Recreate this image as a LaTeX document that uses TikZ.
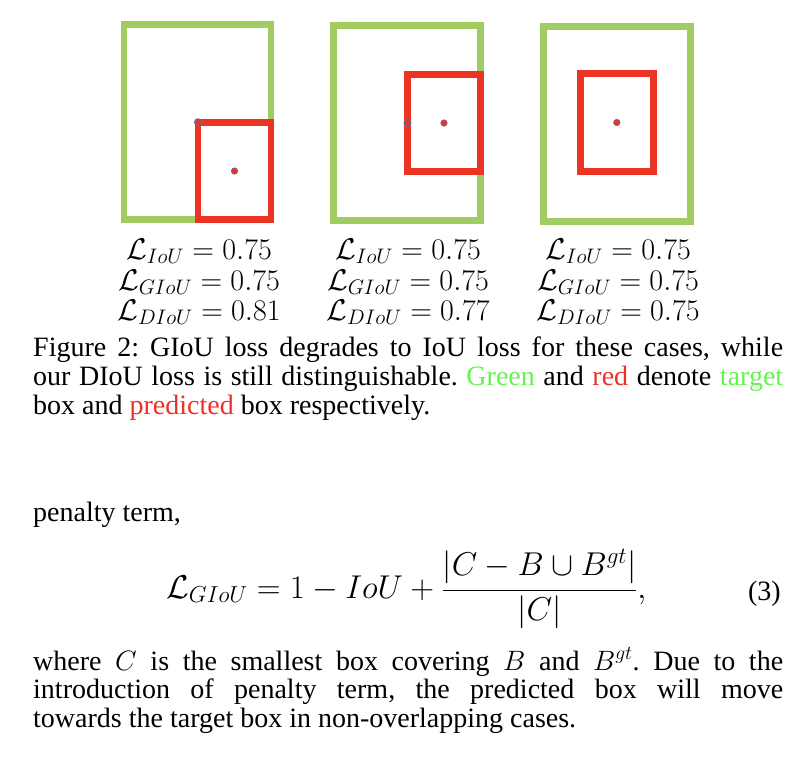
\RequirePackage{fix-cm}
\documentclass[tikz,border=0pt]{standalone}
\usepackage[no-math]{fontspec}
\setmainfont{Liberation Serif}
\usetikzlibrary{positioning}

\definecolor{boxgreen}{RGB}{160,204,98}
\definecolor{boxred}{RGB}{235,52,36}
\definecolor{capgreen}{RGB}{102,242,80}
\definecolor{capred}{RGB}{238,48,40}
\definecolor{dotblue}{RGB}{96,108,150}

\newcommand*{\gtw}{147}
\newcommand*{\gth}{195}
\newcommand*{\prw}{73}
\newcommand*{\prh}{97.5}

\begin{document}
\frenchspacing
\begin{tikzpicture}
[
	x=1pt,
	y=-1pt,
	target/.style={rectangle,draw=boxgreen,line width=6.7pt,inner sep=0pt,outer sep=0pt,minimum width=\gtw pt,minimum height=\gth pt},
	predicted/.style={rectangle,draw=boxred,line width=6.7pt,inner sep=0pt,outer sep=0pt,minimum width=\prw pt,minimum height=\prh pt},
	centerpt/.style={circle,draw=dotblue,fill=boxred,line width=0.6pt,inner sep=0pt,minimum size=6.5pt},
	cornerpt/.style={circle,draw=dotblue,line width=1pt,inner sep=0pt,minimum size=7pt},
	loss/.style={anchor=base,inner sep=0pt,font=\fontsize{30}{31}\selectfont},
	body/.style={anchor=base west,inner sep=0pt,text width=750pt,align=justify,font=\fontsize{28}{29}\selectfont}
]

	\useasboundingbox (0,0) rectangle (808,756);

	% target boxes
	\node[target] (gt1) at (197.5,122.3) {};
	\node[target] (gt2) at (407,123) {};
	\node[target] (gt3) at (617,123.8) {};

	% predicted boxes
	\node[predicted,anchor=south east] (pr1) at (gt1.south east) {};
	\node[predicted,anchor=east] (pr2) at (gt2.east) {};
	\node[predicted] (pr3) at (616.8,122.5) {};

	\node[centerpt] (c1) at (pr1.center) {};
	\node[cornerpt] (k1) at (pr1.north west) {};
	\node[centerpt] (c2) at (pr2.center) {};
	\node[cornerpt] (k2) at (pr2.west) {};
	\node[centerpt] (c3) at (pr3.center) {};

	% losses
	\node[loss] (iou1) at (199,259) {$\mathcal{L}_{IoU} = 0.75$};
	\node[loss] (giou1) at (199,290) {$\mathcal{L}_{GIoU} = 0.75$};
	\node[loss] (diou1) at (199,320) {$\mathcal{L}_{DIoU} = 0.81$};
	\node[loss] (iou2) at (408,259) {$\mathcal{L}_{IoU} = 0.75$};
	\node[loss] (giou2) at (408,290) {$\mathcal{L}_{GIoU} = 0.75$};
	\node[loss] (diou2) at (408,320) {$\mathcal{L}_{DIoU} = 0.77$};
	\node[loss] (iou3) at (618,259) {$\mathcal{L}_{IoU} = 0.75$};
	\node[loss] (giou3) at (618,290) {$\mathcal{L}_{GIoU} = 0.75$};
	\node[loss] (diou3) at (618,320) {$\mathcal{L}_{DIoU} = 0.75$};

	% caption
	\node[body] (caption) at (33,356) {Figure 2: GIoU loss degrades to IoU loss for these cases, while\linebreak our DIoU loss is still distinguishable. \textcolor{capgreen}{Green} and \textcolor{capred}{red} denote \textcolor{capgreen}{target}\linebreak box and \textcolor{capred}{predicted} box respectively.};

	% text below
	\node[body] (penalty) at (33,521.7) {penalty term,};
	\node[anchor=base west,inner sep=0pt,font=\fontsize{33}{34}\selectfont] (eq) at (166,598) {$\displaystyle \mathcal{L}_{GIoU} = 1 - IoU + \frac{|C - B \cup B^{gt}|}{|C|},$};
	\node[anchor=base east,inner sep=0pt,font=\fontsize{28}{29}\selectfont] (eqnum) at (781,600) {(3)};
	\node[body,font=\fontsize{28}{28.5}\selectfont] (where) at (33,670) {where $C$ is the smallest box covering $B$ and $B^{gt}$. Due to the\linebreak introduction of penalty term, the predicted box will move\linebreak towards the target box in non-overlapping cases.};

\end{tikzpicture}
\end{document}
